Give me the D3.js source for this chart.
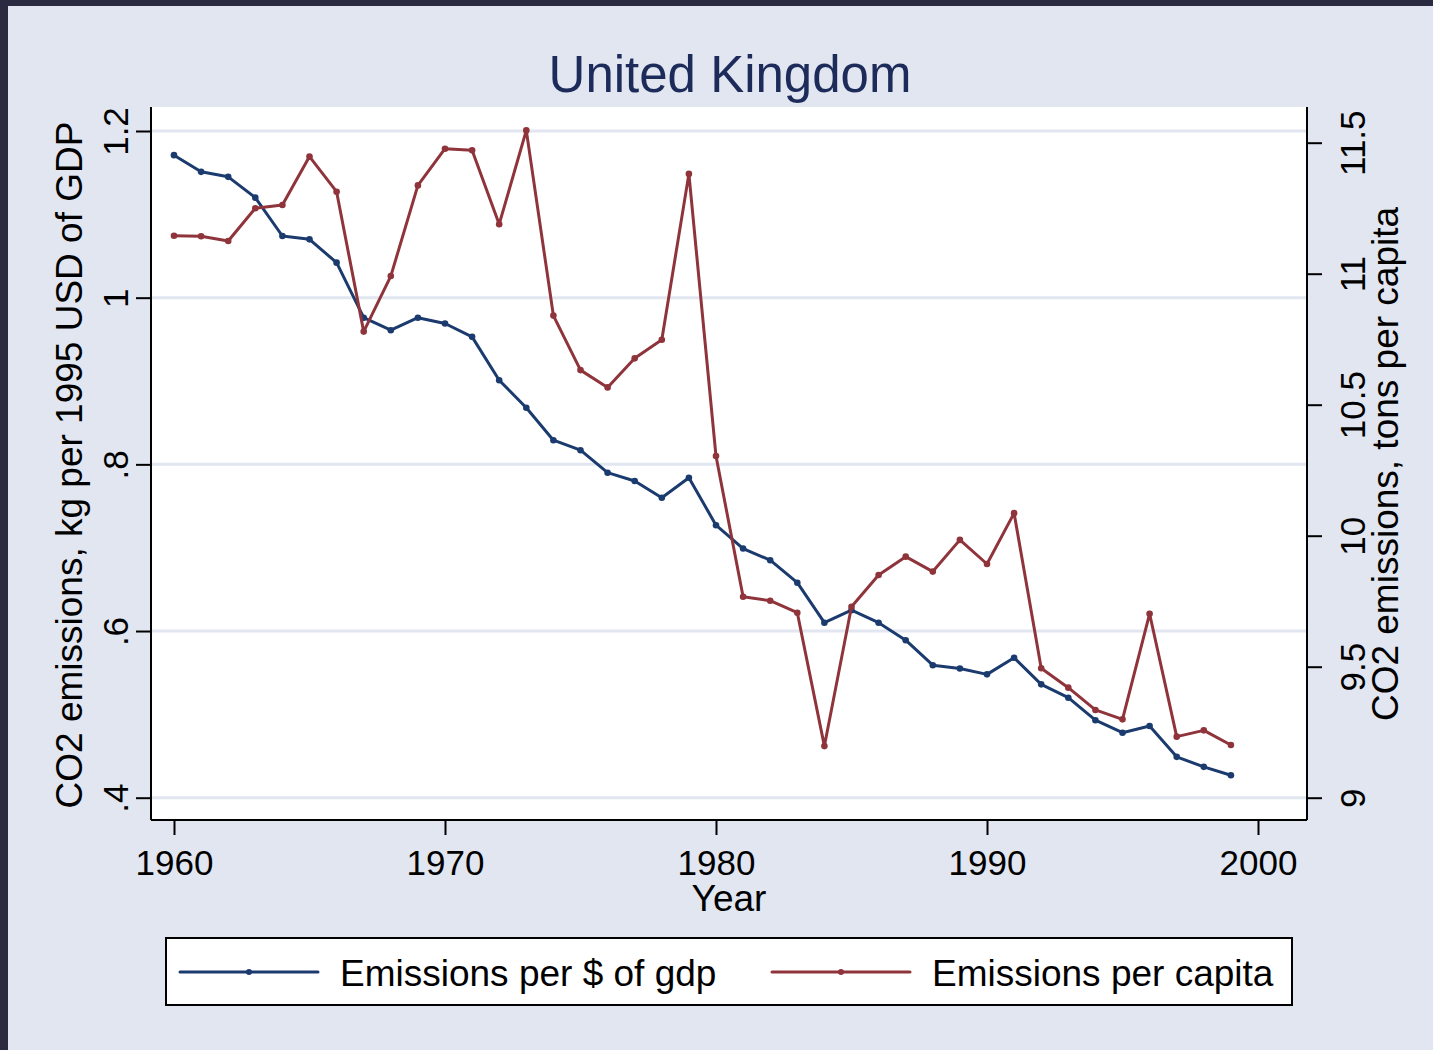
<!DOCTYPE html>
<html>
<head>
<meta charset="utf-8">
<script src="https://cdn.jsdelivr.net/npm/d3@7"></script>
<style>
  html, body { margin: 0; padding: 0; background: #e1e6f0; }
  svg { display: block; }
  text { font-family: "Liberation Sans", Arial, Helvetica, sans-serif; }
</style>
</head>
<body>
<svg id="chart" width="1433" height="1050"></svg>
<script>
const years = d3.range(1960, 2000);
const perGdp = [1.171, 1.151, 1.145, 1.120, 1.074, 1.070, 1.042, 0.976, 0.961, 0.976,
                0.969, 0.953, 0.901, 0.868, 0.829, 0.817, 0.790, 0.780, 0.760, 0.784,
                0.727, 0.699, 0.685, 0.658, 0.610, 0.625, 0.610, 0.589, 0.559, 0.555,
                0.548, 0.568, 0.536, 0.520, 0.493, 0.478, 0.486, 0.449, 0.437, 0.427];
const perCapita = [11.145, 11.143, 11.125, 11.250, 11.262, 11.447, 11.313, 10.779, 10.991, 11.337,
                   11.477, 11.471, 11.189, 11.547, 10.840, 10.632, 10.566, 10.677, 10.748, 11.381,
                   10.304, 9.767, 9.752, 9.706, 9.197, 9.729, 9.850, 9.920, 9.863, 9.984,
                   9.892, 10.086, 9.494, 9.420, 9.335, 9.299, 9.702, 9.233, 9.257, 9.201];
const xTicks = [1960, 1970, 1980, 1990, 2000];
const leftTicks = [0.4, 0.6, 0.8, 1.0, 1.2];
const leftTickLabels = [".4", ".6", ".8", "1", "1.2"];
const rightTicks = [9, 9.5, 10, 10.5, 11, 11.5];
const rightTickLabels = ["9", "9.5", "10", "10.5", "11", "11.5"];
const seriesNames = ["Emissions per $ of gdp", "Emissions per capita"];
const titleText = "United Kingdom";
const xTitle = "Year";
const yLeftTitle = "CO2 emissions, kg per 1995 USD of GDP";
const yRightTitle = "CO2 emissions, tons per capita";

const BLUE = "#1b3b6f", RED = "#8f343b", BG = "#e1e6f0", GRID = "#e1e6f0";
const svg = d3.select("#chart");

// background and dark border
svg.append("rect").attr("x", 0).attr("y", 0).attr("width", 1433).attr("height", 1050).attr("fill", "#2a2b40");
svg.append("rect").attr("x", 8).attr("y", 6).attr("width", 1425).attr("height", 1044).attr("fill", BG);

const plot = {left: 151, right: 1307, top: 107, bottom: 820};
svg.append("rect").attr("x", plot.left).attr("y", plot.top)
   .attr("width", plot.right - plot.left).attr("height", plot.bottom - plot.top).attr("fill", "#fff");

const x = d3.scaleLinear().domain([1960, 2000]).range([174, 1258]);
const yL = d3.scaleLinear().domain([0.4, 1.2]).range([797.7, 131]);
const yR = d3.scaleLinear().domain([9, 11.5]).range([797.7, 142.7]);

// gridlines
svg.append("g").selectAll("line").data(leftTicks).join("line")
  .attr("x1", plot.left).attr("x2", plot.right)
  .attr("y1", d => yL(d)).attr("y2", d => yL(d))
  .attr("stroke", GRID).attr("stroke-width", 3);

// axes
const fontSize = 35;
const titleFont = 37;
const gLeft = svg.append("g").attr("transform", `translate(${plot.left},0)`)
  .call(d3.axisLeft(yL).tickValues(leftTicks).tickSize(15).tickFormat((d, i) => leftTickLabels[i]));
gLeft.select(".domain").attr("d", `M0,${plot.top}V${plot.bottom}`).attr("stroke", "#000").attr("stroke-width", 2);
gLeft.selectAll(".tick line").attr("stroke", "#000").attr("stroke-width", 2);
gLeft.selectAll(".tick text").attr("font-size", fontSize).attr("fill", "#000")
  .attr("transform", "rotate(-90)").attr("x", 0).attr("y", -23).attr("dy", 0)
  .attr("text-anchor", "middle");

const gRight = svg.append("g").attr("transform", `translate(${plot.right},0)`)
  .call(d3.axisRight(yR).tickValues(rightTicks).tickSize(15).tickFormat((d, i) => rightTickLabels[i]));
gRight.select(".domain").attr("d", `M0,${plot.top}V${plot.bottom}`).attr("stroke", "#000").attr("stroke-width", 2);
gRight.selectAll(".tick line").attr("stroke", "#000").attr("stroke-width", 2);
gRight.selectAll(".tick text").attr("font-size", fontSize).attr("fill", "#000")
  .attr("transform", "rotate(-90)").attr("x", 0).attr("y", 58).attr("dy", 0)
  .attr("text-anchor", "middle");

const gBottom = svg.append("g").attr("transform", `translate(0,${plot.bottom})`)
  .call(d3.axisBottom(x).tickValues(xTicks).tickSize(15).tickFormat(d3.format("d")));
gBottom.select(".domain").attr("d", `M${plot.left},0H${plot.right}`).attr("stroke", "#000").attr("stroke-width", 2);
gBottom.selectAll(".tick line").attr("stroke", "#000").attr("stroke-width", 2);
gBottom.selectAll(".tick text").attr("font-size", fontSize).attr("fill", "#000")
  .attr("y", 55).attr("dy", 0);

// axis titles
svg.append("text").attr("x", 729).attr("y", 911).attr("text-anchor", "middle")
  .attr("font-size", titleFont).attr("fill", "#000").text(xTitle);
svg.append("text").attr("transform", "translate(82,465) rotate(-90)").attr("text-anchor", "middle")
  .attr("font-size", titleFont).attr("fill", "#000").text(yLeftTitle);
svg.append("text").attr("transform", "translate(1398,464) rotate(-90)").attr("text-anchor", "middle")
  .attr("font-size", titleFont).attr("fill", "#000").text(yRightTitle);

// title
svg.append("text").attr("x", 730).attr("y", 92).attr("text-anchor", "middle")
  .attr("font-size", 51).attr("fill", "#1c2b5a").text(titleText);

// series
const dataGdp = years.map((yr, i) => ({yr, v: perGdp[i]}));
const dataCap = years.map((yr, i) => ({yr, v: perCapita[i]}));
function drawSeries(data, yScale, color) {
  const g = svg.append("g");
  g.append("path").datum(data)
    .attr("d", d3.line().x(d => x(d.yr)).y(d => yScale(d.v)))
    .attr("fill", "none").attr("stroke", color).attr("stroke-width", 3).attr("stroke-linejoin", "round");
  g.selectAll("circle").data(data).join("circle")
    .attr("cx", d => x(d.yr)).attr("cy", d => yScale(d.v)).attr("r", 3.3).attr("fill", color);
}
drawSeries(dataGdp, yL, BLUE);
drawSeries(dataCap, yR, RED);

// legend
const lg = svg.append("g");
lg.append("rect").attr("x", 166).attr("y", 938).attr("width", 1126).attr("height", 67)
  .attr("fill", "#fff").attr("stroke", "#000").attr("stroke-width", 2);
const legendItems = [
  {name: seriesNames[0], color: BLUE, x0: 180},
  {name: seriesNames[1], color: RED, x0: 772}
];
legendItems.forEach(it => {
  lg.append("line").attr("x1", it.x0).attr("x2", it.x0 + 138).attr("y1", 972).attr("y2", 972)
    .attr("stroke", it.color).attr("stroke-width", 3).attr("stroke-linecap", "round");
  lg.append("circle").attr("cx", it.x0 + 69).attr("cy", 972).attr("r", 3).attr("fill", it.color);
  lg.append("text").attr("x", it.x0 + 160).attr("y", 986).attr("font-size", titleFont)
    .attr("fill", "#000").text(it.name);
});
</script>
</body>
</html>
